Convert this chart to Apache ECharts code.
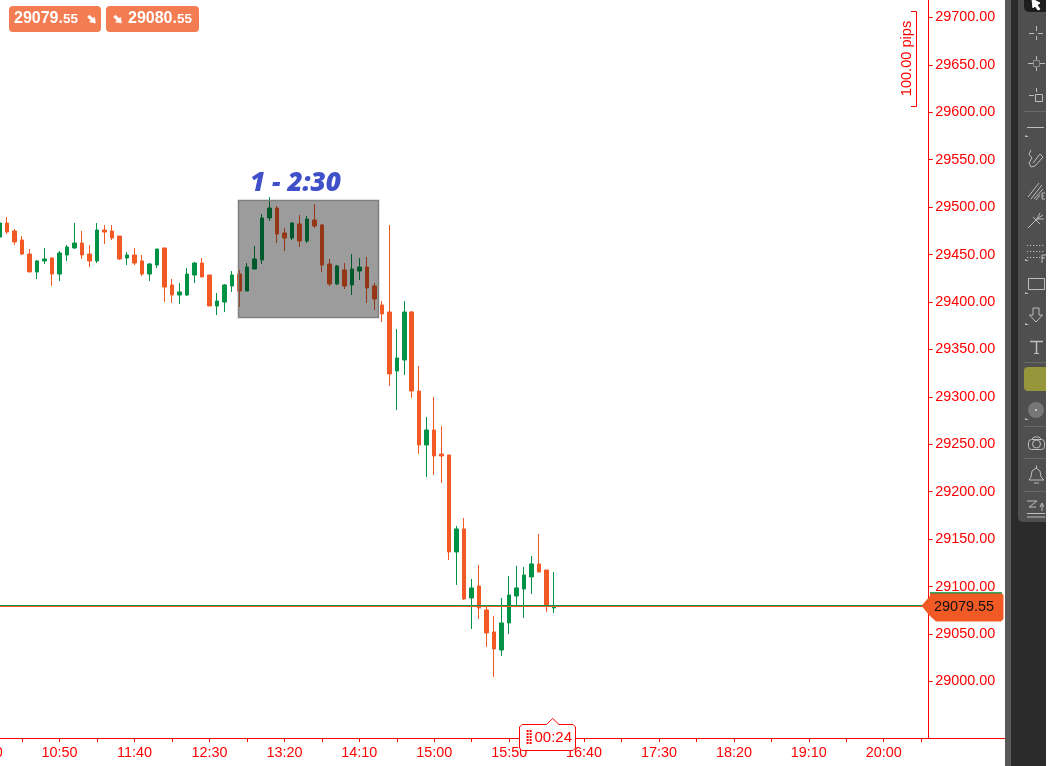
<!DOCTYPE html>
<html><head><meta charset="utf-8">
<script src="https://cdn.jsdelivr.net/npm/echarts@6/dist/echarts.min.js"></script>
<style>html,body{margin:0;padding:0;background:#fff}#c{width:1060px;height:766px}</style>
</head><body><div id="c"></div>
<script>
const categories = ['10:00','10:05','10:10','10:15','10:20','10:25','10:30','10:35','10:40','10:45','10:50','10:55','11:00','11:05','11:10','11:15','11:20','11:25','11:30','11:35','11:40','11:45','11:50','11:55','12:00','12:05','12:10','12:15','12:20','12:25','12:30','12:35','12:40','12:45','12:50','12:55','13:00','13:05','13:10','13:15','13:20','13:25','13:30','13:35','13:40','13:45','13:50','13:55','14:00','14:05','14:10','14:15','14:20','14:25','14:30','14:35','14:40','14:45','14:50','14:55','15:00','15:05','15:10','15:15','15:20','15:25','15:30','15:35','15:40','15:45','15:50','15:55','16:00','16:05','16:10','16:15','16:20','16:25','16:30','16:35','16:40','16:45','16:50','16:55','17:00','17:05','17:10','17:15','17:20','17:25','17:30','17:35','17:40','17:45','17:50','17:55','18:00','18:05','18:10','18:15','18:20','18:25','18:30','18:35','18:40','18:45','18:50','18:55','19:00','19:05','19:10','19:15','19:20','19:25','19:30','19:35','19:40','19:45','19:50','19:55','20:00','20:05','20:10','20:15','20:20','20:25','20:30'];
const emptyLeading = 2; // 10:00 and 10:05 have scrolled off the left edge
const opens = [29468.5,29483.3,29474.9,29465.4,29450.6,29431.7,29443.3,29446.4,29429.5,29449.6,29457.0,29462.2,29450.6,29443.3,29475.9,29474.9,29469.6,29446.4,29449.6,29443.3,29429.5,29439.0,29457.0,29418.0,29407.4,29407.4,29428.5,29441.1,29428.5,29395.8,29400.0,29416.9,29429.5,29411.6,29434.8,29444.3,29488.6,29499.1,29472.8,29467.5,29482.3,29464.3,29486.5,29481.2,29440.1,29419.0,29433.8,29418.0,29432.7,29436.9,29416.9,29396.9,29389.5,29327.3,29338.9,29389.5,29306.2,29249.3,29265.1,29239.8,29238.8,29136.5,29160.8,29088.0,29100.7,29075.4,29052.2,29033.2,29061.7,29090.1,29097.5,29110.2,29123.9,29117.5,29077.5];
const closes = [29483.3,29473.8,29463.3,29450.6,29431.7,29443.3,29445.4,29429.5,29451.7,29458.0,29462.2,29449.6,29443.3,29475.9,29473.8,29467.5,29445.4,29449.6,29441.1,29429.5,29440.1,29455.9,29415.8,29407.4,29410.6,29429.5,29441.1,29426.4,29395.8,29401.1,29418.0,29428.5,29411.6,29436.9,29445.4,29488.6,29499.1,29471.7,29467.5,29483.3,29464.3,29487.5,29480.2,29439.0,29419.0,29438.0,29416.9,29434.8,29436.9,29414.8,29403.2,29387.4,29324.2,29341.0,29389.5,29306.2,29249.3,29265.1,29237.7,29237.7,29136.5,29160.8,29087.0,29098.6,29077.5,29051.1,29034.3,29061.7,29091.2,29098.6,29112.3,29123.9,29115.4,29079.6,29079.55];
const lows = [29468.5,29471.7,29460.1,29449.6,29431.7,29424.3,29440.1,29416.9,29422.2,29443.3,29455.9,29445.4,29436.9,29441.1,29461.2,29465.4,29444.3,29439.0,29439.0,29427.4,29422.2,29435.9,29400.0,29399.0,29397.9,29406.4,29420.1,29426.4,29395.8,29386.3,29389.5,29410.6,29394.8,29411.6,29434.8,29440.1,29485.4,29462.2,29453.8,29465.4,29458.0,29462.2,29478.0,29431.7,29416.9,29418.0,29413.7,29407.4,29423.2,29399.0,29391.6,29378.9,29311.5,29286.2,29323.1,29298.9,29239.8,29215.6,29217.7,29209.3,29128.1,29101.7,29085.9,29055.3,29065.9,29036.4,29004.8,29026.9,29050.1,29079.6,29067.0,29092.3,29115.4,29073.3,29072.2];
const highs = [29483.3,29489.6,29477.0,29469.6,29455.9,29444.3,29457.0,29447.5,29453.8,29460.1,29483.3,29474.9,29460.1,29483.3,29481.2,29481.2,29469.6,29452.7,29457.0,29449.6,29441.1,29455.9,29457.0,29424.3,29420.1,29435.9,29442.2,29446.4,29428.5,29409.5,29419.0,29432.7,29433.8,29441.1,29459.1,29492.8,29510.7,29501.2,29478.0,29484.4,29491.7,29490.7,29503.3,29482.3,29445.4,29439.0,29441.1,29450.6,29446.4,29447.5,29420.1,29401.1,29481.2,29371.6,29401.1,29390.6,29332.6,29278.8,29299.9,29269.4,29238.8,29163.9,29172.4,29108.1,29122.8,29079.6,29069.0,29088.0,29111.2,29121.8,29120.7,29132.3,29155.5,29117.5,29115.4];
const priceTicks = [29000,29050,29100,29150,29200,29250,29300,29350,29400,29450,29500,29550,29600,29650,29700];
const bid = 29079.55, ask = 29080.55;
const axisMin = 28940.4, axisMax = 29718.4;

const RED='#ff0000', UP='#009245', DOWN='#f15a24', BADGE='#f47c52', ICON='#bdbdbd';
const candles = categories.map((_,i)=>{
  const k=i-emptyLeading;
  return (k>=0&&k<opens.length)?[opens[k],closes[k],lows[k],highs[k]]:['-','-','-','-'];
});

const g=[];
const L=(x1,y1,x2,y2,c=ICON,w=1,z=200)=>g.push({type:'line',z,silent:true,shape:{x1,y1,x2,y2},style:{stroke:c,lineWidth:w}});
const PL=(pts,c=ICON,w=1,z=200)=>g.push({type:'polyline',z,silent:true,shape:{points:pts},style:{stroke:c,fill:null,lineWidth:w}});
const PG=(pts,fill,stroke,z=200,w=1)=>g.push({type:'polygon',z,silent:true,shape:{points:pts},style:{fill,stroke,lineWidth:w}});
const R=(x,y,width,height,fill,r=0,z=200,stroke=null,w=1)=>g.push({type:'rect',z,silent:true,shape:{x,y,width,height,r},style:{fill,stroke,lineWidth:w}});
const C=(cx,cy,r,fill,stroke=null,z=200,w=1)=>g.push({type:'circle',z,silent:true,shape:{cx,cy,r},style:{fill,stroke,lineWidth:w}});
const T=(x,y,text,style,extra={})=>g.push(Object.assign({type:'text',z:210,silent:true,x,y,style:Object.assign({text,verticalAlign:'middle'},style)},extra));

// selection box over the candles
R(238.5,200.5,140,117,'rgba(0,0,0,0.39)',0,100,'#808080',1.5);
T(250,184,'1 - 2:30',{font:"italic 800 26.2px 'Open Sans'",fill:'#4050c8'});

// axis extension
L(928,738.5,1005,738.5,RED,1,50);

// top badges
R(9,6,92,26,BADGE,4,150);
R(106,6,93,26,BADGE,4,150);
const badgeRich={a:{fontFamily:'Liberation Sans',fontWeight:'bold',fontSize:16,fill:'#fff'},b:{fontFamily:'Liberation Sans',fontWeight:'bold',fontSize:13.5,fill:'#fff'}};
T(14,19,'{a|29079.}{b|55}',{rich:badgeRich});
T(128,19,'{a|29080.}{b|55}',{rich:badgeRich});
const arrow=(x,y)=>PG([[x,y+2],[x+2,y],[x+5.5,y+3.5],[x+7,y+2],[x+8,y+8],[x+2,y+7],[x+3.5,y+5.5]],'#fff','#fff',210,0.5);
arrow(87.5,15);arrow(113.5,15);

// measure bracket
PL([[911,11.5],[916.5,11.5],[916.5,106.5],[911,106.5]],RED,1,60);
T(906.5,58.5,'100.00 pips',{font:"14.6px 'Liberation Sans'",fill:RED,align:'center'},{rotation:Math.PI/2});

// price tag
PG([[921.5,605.8],[930,596],[930,592.8],[1001,592.8],[1003.5,595],[1003.5,619],[1001,621.5],[936,621.5],[929,615]],DOWN,null,150);
L(930,592.8,1002,592.8,UP,1.2,151);
T(934,607,'29079.55',{font:"14.4px 'Liberation Sans'",fill:'#111'});

// countdown
PG([[522,724.5],[546.5,724.5],[552.7,718.5],[559,724.5],[573,724.5],[575.5,727],[575.5,748],[573,750.5],[522,750.5],[519.5,748],[519.5,727]],'#fff',RED,150);
[0,1].forEach(a=>[0,1,2,3,4].forEach(b=>R(526.6+a*3,730+b*3,2,2,RED,0,155)));
T(534.5,738,'00:24',{font:"15px 'Liberation Sans'",fill:RED});

// toolbar
R(1005,0,6,766,'#585858',0,190);
R(1011,0,7,766,'#2b2b2b',0,190);
R(1018,0,28,766,'#2b2b2b',0,190);
g.push({type:'rect',z:191,silent:true,shape:{x:1018,y:-10,width:28,height:532,r:[0,0,0,5]},style:{fill:'#4f4f4f'}});
g.push({type:'rect',z:192,silent:true,shape:{x:1024,y:-10,width:22,height:22,r:[0,0,0,5]},style:{fill:'#1e1e1e'}});
PG([[1032,-1],[1040,3],[1037,5],[1040,9],[1038,10],[1035,6],[1033,8]],'#fff','#fff');
[111,362,426,458,491].forEach(y=>L(1024,y+.5,1046,y+.5,'#696969'));
// crosshair
L(1029,33.5,1034,33.5);L(1038,33.5,1043,33.5);L(1036.5,26,1036.5,31);L(1036.5,36,1036.5,40);
// cross 2
L(1028,63.5,1034,63.5);L(1039,63.5,1045,63.5);L(1036.5,56,1036.5,60);L(1036.5,67,1036.5,71);R(1033.5,60.5,6,6,null,0,200,'#8a8a8a');
// cross + square
L(1029,95.5,1034,95.5);L(1036.5,88,1036.5,92);R(1035.5,94.5,7,7,null,0,200,ICON);
// line
L(1027,127.5,1044,127.5);PG([[1025,135],[1029,137],[1025,137]],ICON,null);
// pen
PL([[1031,150],[1029,154],[1032,158],[1029,163],[1031,167],[1035,166],[1043,157],[1040,154],[1033,163]]);
// fib
L(1028,197,1039,183);L(1031,199,1042,185);L(1034,199,1043,189);L(1036,200,1040,195);L(1042,193,1042,199);L(1042,193,1045,193);L(1042,196,1044,196);L(1042,199,1045,199);
// pitchfork
L(1028,228,1037,219);L(1037,219,1040,213);L(1037,219,1044,219);L(1037,219,1043,215);L(1033,217,1040,224);
// dotted + F
[245,251,257].forEach(y=>{for(let x=1027;x<1044;x+=3)R(x,y,1.2,1,ICON);});
L(1042,255,1042,263);L(1042,255,1046,255);L(1042,258,1045,258);PG([[1025,259],[1029,261],[1025,261]],ICON,null);
// rectangle
R(1028.5,278.5,16,11,null,0,200,ICON);PG([[1025,292],[1029,294],[1025,294]],ICON,null);
// arrow
PG([[1033,308],[1039,308],[1039,315],[1042.5,315],[1036,322],[1029.5,315],[1033,315]],null,ICON);PG([[1025,323],[1029,325],[1025,325]],ICON,null);
// T
L(1030,341.5,1043,341.5,ICON,1.5);L(1036.5,341,1036.5,353,ICON,1.5);L(1034,353.5,1039,353.5);
// olive swatch
g.push({type:'rect',z:200,silent:true,shape:{x:1024,y:367,width:22,height:24,r:[4,0,0,4]},style:{fill:'#96963a'}});
// circle
C(1036,410,8,'#767676');C(1036,410,1,'#e0e0e0');PG([[1025,418],[1029,420],[1025,420]],ICON,null);
// camera
g.push({type:'rect',z:200,silent:true,shape:{x:1028.5,y:439.5,width:16,height:10,r:3},style:{fill:null,stroke:ICON}});
C(1036.5,444,4,null,ICON);PL([[1032,439],[1034,437],[1039,437],[1041,439]]);
// bell
PL([[1029,480],[1031,477],[1032,471],[1036,468],[1040,471],[1041,477],[1044,480],[1029,480]]);L(1034,483,1039,483);L(1036.5,465.5,1036.5,468);
// stack
L(1027,501,1037,501);PL([[1037,501],[1029,507],[1036,507]]);L(1027,513.5,1045,513.5);L(1027,517,1045,517);PL([[1040,507],[1042,503],[1044,507]]);L(1042,504,1042,511);

const chart=echarts.init(document.getElementById('c'),null,{renderer:'canvas'});
chart.setOption({
  animation:false,
  grid:{left:-15.3,top:0,width:944,height:738,containLabel:false,outerBoundsMode:'none'},
  xAxis:{type:'category',data:categories,boundaryGap:false,
    axisLine:{lineStyle:{color:RED,width:1}},
    axisTick:{show:true,interval:4,length:4,lineStyle:{color:RED,width:1}},
    axisLabel:{interval:9,color:RED,fontFamily:'Liberation Sans',fontSize:14.4,margin:8,hideOverlap:false},
    splitLine:{show:false}},
  yAxis:{type:'value',position:'right',min:axisMin,max:axisMax,scale:true,
    axisLine:{show:true,onZero:false,lineStyle:{color:RED,width:1}},
    axisTick:{show:true,length:4,customValues:priceTicks,lineStyle:{color:RED,width:1}},
    axisLabel:{color:RED,fontFamily:'Liberation Sans',fontSize:14.4,margin:6.5,lineHeight:20,padding:[3,0,0,0],customValues:priceTicks,formatter:v=>v.toFixed(2)},
    splitLine:{show:false}},
  series:[{type:'candlestick',data:candles,barWidth:4,
    clip:false,
    itemStyle:{color:UP,color0:DOWN,borderColor:UP,borderColor0:DOWN,borderWidth:1},
    markLine:{silent:true,symbol:'none',label:{show:false},animation:false,
      data:[{yAxis:ask,lineStyle:{color:UP,width:1,type:'solid'}},{yAxis:bid,lineStyle:{color:DOWN,width:1.2,type:'solid'}}]}}],
  graphic:{elements:g}
});
</script></body></html>
